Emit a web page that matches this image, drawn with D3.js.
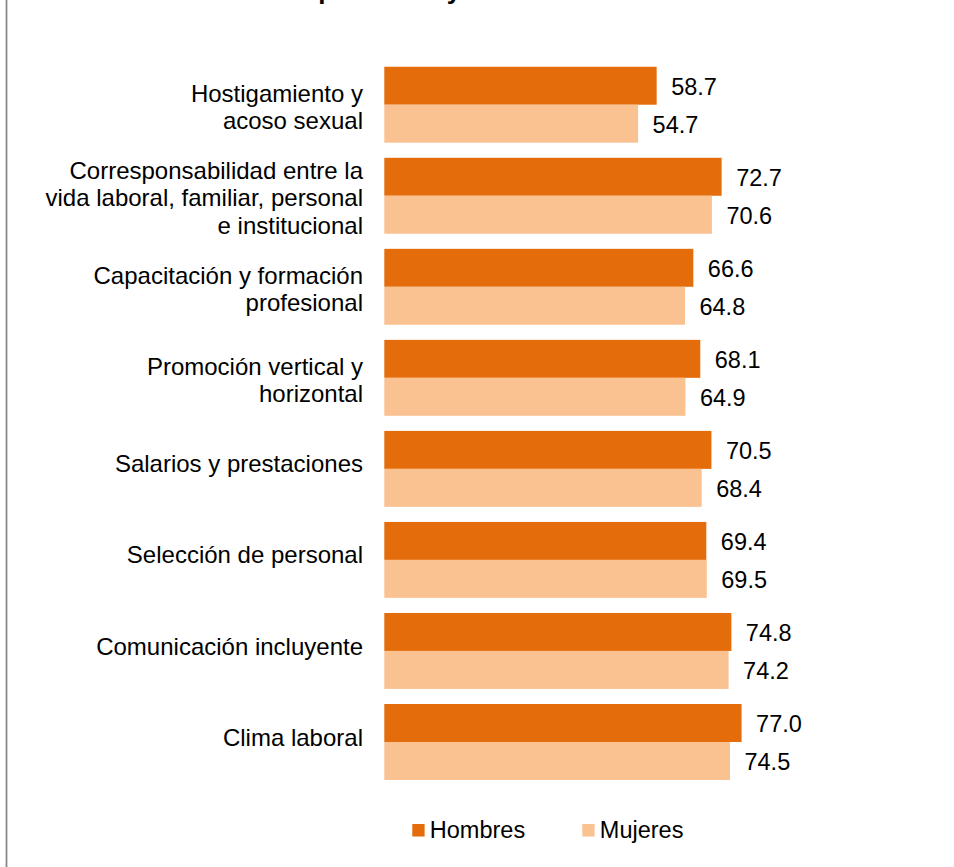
<!DOCTYPE html>
<html>
<head>
<meta charset="utf-8">
<script src="https://cdn.jsdelivr.net/npm/d3@7"></script>
<style>
  html, body { margin: 0; padding: 0; background: #fff; }
  svg { display: block; }
  text { font-family: "Liberation Sans", Arial, Helvetica, sans-serif; fill: #000; }
</style>
</head>
<body>
<svg id="chart" width="954" height="867"></svg>
<script>
// Factors (each label split into the lines it is printed on)
const categories = [
  ["Hostigamiento y", "acoso sexual"],
  ["Corresponsabilidad entre la", "vida laboral, familiar, personal", "e institucional"],
  ["Capacitación y formación", "profesional"],
  ["Promoción vertical y", "horizontal"],
  ["Salarios y prestaciones"],
  ["Selección de personal"],
  ["Comunicación incluyente"],
  ["Clima laboral"]
];
const hombres = [58.7, 72.7, 66.6, 68.1, 70.5, 69.4, 74.8, 77.0];
const mujeres = [54.7, 70.6, 64.8, 64.9, 68.4, 69.5, 74.2, 74.5];
const seriesNames = ["Hombres", "Mujeres"];
const seriesColors = ["#E46C0A", "#FAC191"];
const titleText = "Resultados por factor y sexo";

const svg = d3.select("#chart");
const fontSize = 24;
const valueFontSize = 23.5;
const lineHeight = 27.5;

// Frame edge on the left
svg.append("line")
  .attr("x1", 6.5).attr("x2", 6.5)
  .attr("y1", 0).attr("y2", 867)
  .attr("stroke", "#8a8a8a").attr("stroke-width", 1.8);

// Title (sits at the very top edge)
const title = svg.append("text")
  .attr("y", -1)
  .attr("font-size", 26)
  .attr("font-weight", "bold")
  .text(titleText);
const prefix = svg.append("text").attr("font-size", 26).attr("font-weight", "bold")
  .text("Resultados ");
const prefixW = prefix.node().getComputedTextLength();
prefix.remove();
title.attr("x", 311 - prefixW);

// Scales
const idx = d3.range(categories.length);
const y = d3.scaleBand()
  .domain(idx)
  .range([59.2, 787.5])
  .paddingInner(0.166)
  .paddingOuter(0.083);

const ySub = d3.scaleBand()
  .domain(seriesNames)
  .range([0, y.bandwidth()]);

const x = d3.scaleLinear()
  .domain([0, 100])
  .range([384.3, 848.3]);

const color = d3.scaleOrdinal().domain(seriesNames).range(seriesColors);

const rows = idx.map(i => ({
  i,
  lines: categories[i],
  values: [
    { key: "Hombres", value: hombres[i] },
    { key: "Mujeres", value: mujeres[i] }
  ]
}));

const groups = svg.append("g").selectAll("g")
  .data(rows)
  .join("g")
  .attr("transform", d => `translate(0,${y(d.i)})`);

// Bars
groups.selectAll("rect")
  .data(d => d.values)
  .join("rect")
  .attr("x", x(0))
  .attr("y", d => ySub(d.key))
  .attr("width", d => x(d.value) - x(0))
  .attr("height", ySub.bandwidth())
  .attr("fill", d => color(d.key));

// Value labels
groups.selectAll("text.value")
  .data(d => d.values)
  .join("text")
  .attr("class", "value")
  .attr("x", d => x(d.value) + 14.5)
  .attr("y", d => ySub(d.key) + ySub.bandwidth() / 2)
  .attr("dy", "0.38em")
  .attr("font-size", valueFontSize)
  .text(d => d.value.toFixed(1));

// Category labels
const capHalf = 0.716 * fontSize / 2;
groups.append("text")
  .attr("class", "cat")
  .attr("text-anchor", "end")
  .attr("font-size", fontSize)
  .each(function(d) {
    const n = d.lines.length;
    const mid = y.bandwidth() / 2 + (n === 1 ? -5 : 2);
    const first = mid - (n - 1) / 2 * lineHeight + capHalf;
    d3.select(this).selectAll("tspan")
      .data(d.lines)
      .join("tspan")
      .attr("x", 363)
      .attr("y", (t, k) => first + k * lineHeight)
      .text(t => t);
  });

// Legend
const legend = svg.append("g").selectAll("g")
  .data(seriesNames)
  .join("g")
  .attr("transform", (d, k) => `translate(${412.3 + k * 170},824)`);
legend.append("rect")
  .attr("width", 12.3).attr("height", 12.5)
  .attr("fill", d => color(d));
legend.append("text")
  .attr("x", 17.5)
  .attr("y", 14.3)
  .attr("font-size", valueFontSize)
  .text(d => d);
</script>
</body>
</html>
